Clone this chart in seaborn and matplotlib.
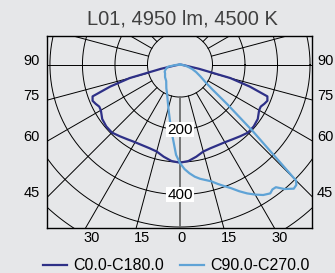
import numpy as np
import pandas as pd
import seaborn as sns
import matplotlib.pyplot as plt

# luminous intensity (cd) vs gamma angle (deg)
c0_gamma = [0, 5, 10, 15, 20, 25, 30, 35, 40, 45, 50, 55, 60, 62.5, 65, 67.5, 70, 72.5, 75, 77.5, 80, 85, 90]
c0_cd = [302, 298, 288, 277, 274, 274, 276, 281, 288, 296, 296, 292, 281, 280, 286, 291, 286, 225, 160, 60, 15, 3, 0]

c90_gamma = [0, 2.5, 5, 7.5, 10, 12.5, 15, 17.5, 20, 22.5, 25, 27.5, 30, 32.5, 35, 36.5, 38, 40, 42.5, 44, 45,
             47.5, 50, 52.5, 55, 60, 65, 70, 75, 80, 85, 90]
c90_cd = [303, 322, 336, 348, 357, 364, 372, 385, 398, 412, 430, 447, 462, 476, 484, 478, 479, 500, 518, 515, 505,
          305, 190, 125, 98, 72, 55, 40, 25, 13, 5, 0]

c270_gamma = [0, 2.5, 5, 7.5, 10, 15, 20, 25, 30, 40, 50, 60, 65, 70, 75, 80, 85, 90]
c270_cd = [303, 278, 235, 205, 177, 138, 112, 95, 84, 66, 60, 53, 52, 48, 43, 37, 12, 0]

series_names = ["C0.0-C180.0", "C90.0-C270.0"]
series_colors = ["#2e3087", "#5fa3d6"]
title = "L01, 4950 lm, 4500 K"
side_ticks = [90, 75, 60, 45]
bottom_ticks = [30, 15, 0, 15, 30]
ring_labels = [200, 400]


def to_xy(gamma, cd, sign):
    g = np.radians(np.array(gamma, dtype=float))
    r = np.array(cd, dtype=float)
    return sign * r * np.sin(g), -r * np.cos(g)


rows = []
# C0 / C180 is symmetric: left half reversed then right half
xl, yl = to_xy(c0_gamma[::-1], c0_cd[::-1], -1)
xr, yr = to_xy(c0_gamma[1:], c0_cd[1:], 1)
for x, y in zip(np.r_[xl, xr], np.r_[yl, yr]):
    rows.append((series_names[0], x, y))
xl, yl = to_xy(c270_gamma[::-1], c270_cd[::-1], -1)
xr, yr = to_xy(c90_gamma[1:], c90_cd[1:], 1)
for x, y in zip(np.r_[xl, xr], np.r_[yl, yr]):
    rows.append((series_names[1], x, y))
df = pd.DataFrame(rows, columns=["curve", "x", "y"])

plt.rcParams["font.family"] = ["Liberation Sans", "DejaVu Sans"]
bg = "#e6e7e9"

fig = plt.figure(figsize=(3.35, 2.73), dpi=100, facecolor=bg)
ax = fig.add_axes([47 / 335, 1 - 228 / 273, 265 / 335, 192 / 273])
ax.set_facecolor(bg)
xmin, xmax, ymin, ymax = -409, 406, -503, 88
ax.set_xlim(xmin, xmax)
ax.set_ylim(ymin, ymax)

# polar grid
t = np.linspace(0, 2 * np.pi, 400)
for r in range(100, 800, 100):
    ax.plot(r * np.cos(t), r * np.sin(t), color="black", lw=0.7, zorder=1)
for a in range(-180, 181, 15):
    g = np.radians(a)
    col, lw = ("#6b6b6b", 1.3) if a == 0 else ("black", 0.7)
    ax.plot([100 * np.sin(g), 1000 * np.sin(g)], [-100 * np.cos(g), -1000 * np.cos(g)],
            color=col, lw=lw, zorder=1)

sns.lineplot(data=df, x="x", y="y", hue="curve", palette=series_colors, sort=False,
             estimator=None, lw=1.6, ax=ax, zorder=3)

for v in ring_labels:
    ax.text(0, -v, str(v), ha="center", va="center", fontsize=11, zorder=4,
            bbox=dict(boxstyle="square,pad=0.06", fc="white", ec="none"))

ax.set_xticks([])
ax.set_yticks([])
ax.set_xlabel("")
ax.set_ylabel("")
for s in ax.spines.values():
    s.set_linewidth(1.0)
    s.set_color("black")

# angle labels where the spokes meet the frame
px = 3.077  # cd per pixel
for a in side_ticks:
    y = xmin / np.tan(np.radians(a)) if a != 90 else 0
    ax.text(xmin - 7 * px, y, str(a), ha="right", va="baseline", fontsize=10.5, clip_on=False)
    ax.text(xmax + 5 * px, y, str(a), ha="left", va="baseline", fontsize=10.5, clip_on=False)
for i, a in enumerate(bottom_ticks):
    sign = -1 if i < 2 else 1
    x = sign * (-ymin) * np.tan(np.radians(a))
    ax.text(x - 2.5 * px, ymin - 3.5 * px, str(a), ha="left", va="top", fontsize=10.5, clip_on=False)

fig.text(182 / 335, 1 - 19 / 273, title, ha="center", va="center", fontsize=14.5, color="#404040")

handles, labels = ax.get_legend_handles_labels()
ax.get_legend().remove()
fig.legend(handles, labels, loc="center", bbox_to_anchor=(176 / 335, 1 - 266 / 273), ncol=2,
           frameon=False, fontsize=11.5, handlelength=1.5, handletextpad=0.4, columnspacing=1.0)

fig.savefig("out.png", dpi=100, facecolor=bg)
